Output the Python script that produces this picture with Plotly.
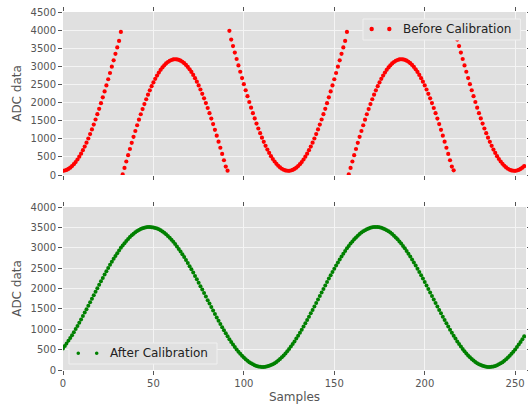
import plotly.graph_objects as go

# ---- data ----
samples = list(range(256))

before_calibration = [
    116, 124, 141, 167, 202, 245, 298, 358, 428, 505,
    590, 684, 784, 892, 1008, 1129, 1258, 1392, 1532, 1678,
    1828, 1984, 2143, 2306, 2473, 2643, 2816, 2990, 3167, 3344,
    3523, 3702, 3950, 19, 196, 372, 546, 718, 887, 1053,
    1215, 1374, 1527, 1677, 1820, 1959, 2091, 2218, 2338, 2451,
    2557, 2655, 2746, 2829, 2904, 2971, 3029, 3079, 3120, 3152,
    3175, 3190, 3195, 3191, 3179, 3157, 3127, 3088, 3040, 2983,
    2918, 2845, 2763, 2674, 2577, 2472, 2361, 2242, 2117, 1986,
    1849, 1706, 1558, 1405, 1247, 1086, 921, 752, 581, 407,
    232, 120, 3980, 3738, 3559, 3380, 3202, 3026, 2850, 2677,
    2507, 2340, 2175, 2015, 1859, 1707, 1561, 1420, 1284, 1155,
    1031, 915, 805, 703, 608, 521, 442, 372, 309, 255,
    210, 173, 145, 127, 117,
    116, 124, 141, 167, 202, 245, 298, 358, 428, 505,
    590, 684, 784, 892, 1008, 1129, 1258, 1392, 1532, 1678,
    1828, 1984, 2143, 2306, 2473, 2643, 2816, 2990, 3167, 3344,
    3523, 3702, 3950, 19, 196, 372, 546, 718, 887, 1053,
    1215, 1374, 1527, 1677, 1820, 1959, 2091, 2218, 2338, 2451,
    2557, 2655, 2746, 2829, 2904, 2971, 3029, 3079, 3120, 3152,
    3175, 3190, 3195, 3191, 3179, 3157, 3127, 3088, 3040, 2983,
    2918, 2845, 2763, 2674, 2577, 2472, 2361, 2242, 2117, 1986,
    1849, 1706, 1558, 1405, 1247, 1086, 921, 752, 581, 407,
    232, 130, 3980, 3738, 3559, 3380, 3202, 3026, 2850, 2677,
    2507, 2340, 2175, 2015, 1859, 1707, 1561, 1420, 1284, 1155,
    1031, 915, 805, 703, 608, 521, 442, 372, 309, 255,
    210, 173, 145, 127, 117,
    116, 124, 141, 167, 202, 245,
]

after_calibration = [
    527, 587, 650, 716, 784, 855, 929, 1004, 1082, 1161,
    1242, 1324, 1408, 1492, 1577, 1663, 1749, 1835, 1921, 2007,
    2092, 2176, 2260, 2342, 2423, 2502, 2580, 2655, 2729, 2800,
    2868, 2934, 2997, 3057, 3113, 3167, 3217, 3263, 3305, 3344,
    3379, 3410, 3437, 3459, 3478, 3492, 3502, 3508, 3509, 3506,
    3499, 3487, 3471, 3451, 3427, 3398, 3366, 3329, 3289, 3245,
    3197, 3146, 3091, 3033, 2972, 2908, 2841, 2772, 2700, 2626,
    2549, 2471, 2391, 2309, 2227, 2143, 2058, 1973, 1887, 1801,
    1714, 1629, 1543, 1458, 1374, 1291, 1209, 1129, 1050, 974,
    899, 826, 756, 689, 624, 563, 504, 449, 397, 348,
    304, 263, 225, 192, 163, 138, 117, 100, 87, 79,
    75, 76, 81, 90, 103, 121, 142, 168, 198, 232,
    270, 312, 358, 407, 460, 516, 575, 637, 702, 770,
    841, 914, 989, 1066, 1145, 1225, 1308, 1391, 1475, 1560,
    1646, 1732, 1818, 1904, 1990, 2075, 2160, 2243, 2326, 2407,
    2487, 2565, 2641, 2714, 2786, 2855, 2921, 2985, 3045, 3102,
    3156, 3207, 3254, 3297, 3337, 3372, 3404, 3432, 3455, 3475,
    3490, 3500, 3507, 3509, 3507, 3500, 3490, 3475, 3455, 3432,
    3404, 3372, 3337, 3297, 3254, 3207, 3156, 3102, 3045, 2985,
    2921, 2855, 2786, 2714, 2641, 2565, 2487, 2407, 2326, 2243,
    2160, 2075, 1990, 1904, 1818, 1732, 1646, 1560, 1475, 1391,
    1308, 1225, 1145, 1066, 989, 914, 841, 770, 702, 637,
    575, 516, 460, 407, 358, 312, 270, 232, 198, 168,
    142, 121, 103, 90, 81, 76, 75, 79, 87, 100,
    117, 138, 163, 192, 225, 263, 304, 348, 397, 449,
    504, 563, 624, 689, 756, 826,
]

x_ticks = [0, 50, 100, 150, 200, 250]
top_y_ticks = [0, 500, 1000, 1500, 2000, 2500, 3000, 3500, 4000, 4500]
bottom_y_ticks = [0, 500, 1000, 1500, 2000, 2500, 3000, 3500, 4000]

# ---- style ----
FONT = "DejaVu Sans"
BG = "#E0E0E0"
TICK = "#555555"

fig = go.Figure()
fig.add_trace(go.Scatter(x=samples, y=before_calibration, mode="markers",
                         marker=dict(color="#FF0000", size=4.2, line=dict(width=0)),
                         xaxis="x", yaxis="y", showlegend=False))
fig.add_trace(go.Scatter(x=samples, y=after_calibration, mode="markers",
                         marker=dict(color="#008000", size=4, line=dict(width=0)),
                         xaxis="x2", yaxis="y2", showlegend=False))

axis_common = dict(showgrid=True, gridcolor="#F4F4F4", gridwidth=1, zeroline=False,
                   showline=False, ticks="outside", ticklen=4, tickwidth=1,
                   tickcolor=TICK, mirror="ticks",
                   tickfont=dict(family=FONT, size=10, color=TICK))

fig.update_layout(
    width=528, height=407,
    margin=dict(l=63, r=2, t=12, b=37, autoexpand=False),
    paper_bgcolor="white", plot_bgcolor=BG,
    xaxis=dict(axis_common, domain=[0, 1], range=[0, 256], tickvals=x_ticks,
               showticklabels=False, anchor="y"),
    yaxis=dict(axis_common, domain=[0.5447, 1], range=[0, 4500], tickvals=top_y_ticks,
               anchor="x",
               title=dict(text="ADC data", standoff=6,
                          font=dict(family=FONT, size=12, color=TICK))),
    xaxis2=dict(axis_common, domain=[0, 1], range=[0, 256], tickvals=x_ticks,
                anchor="y2",
                title=dict(text="Samples", standoff=4,
                           font=dict(family=FONT, size=12, color=TICK))),
    yaxis2=dict(axis_common, domain=[0, 0.4553], range=[0, 4000], tickvals=bottom_y_ticks,
                anchor="x2",
                title=dict(text="ADC data", standoff=6,
                           font=dict(family=FONT, size=12, color=TICK))),
)

def legend_box(x0, x1, y0, y1, dots, r, color, label, tx, ty):
    fig.add_shape(type="rect", xref="paper", yref="paper", x0=x0, x1=x1, y0=y0, y1=y1,
                  fillcolor=BG, line=dict(color="#F0F0F0", width=1), layer="above")
    rx = r / 463.0
    ry = r / 358.0
    for dx in dots:
        fig.add_shape(type="circle", xref="paper", yref="paper",
                      x0=dx - rx, x1=dx + rx, y0=ty - ry, y1=ty + ry,
                      fillcolor=color, line=dict(width=0), layer="above")
    fig.add_annotation(xref="paper", yref="paper", x=tx, y=ty, text=label,
                       showarrow=False, xanchor="left", yanchor="middle",
                       font=dict(family=FONT, size=12, color="#222222"), borderpad=0)

legend_box(0.648, 0.988, 0.9218, 0.9804, [0.6667, 0.7048], 2.2, "#FF0000",
           "Before Calibration", 0.733, 0.9525)
legend_box(0.013, 0.3326, 0.0168, 0.0754, [0.033, 0.0728], 1.8, "#008000",
           "After Calibration", 0.099, 0.0466)

fig.write_html("out.html")
